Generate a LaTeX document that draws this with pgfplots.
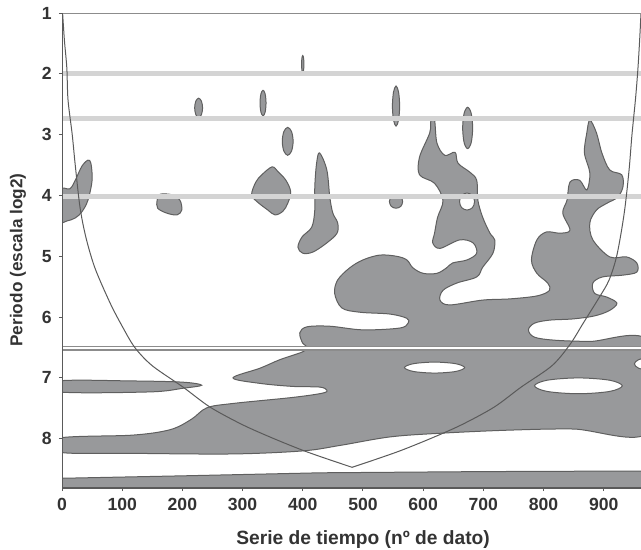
\documentclass[border=0pt]{standalone}
\usepackage{fontspec}
\setmainfont{Liberation Sans}
\usepackage{pgfplots}
\pgfplotsset{compat=1.18}

\definecolor{blob}{RGB}{152,153,155}
\definecolor{edge}{RGB}{95,95,95}
\definecolor{band}{RGB}{212,212,212}
\definecolor{frame}{RGB}{90,90,90}

\pgfplotsset{
  blob/.style={smooth cycle, tension=0.55, fill=blob, draw=edge, line width=0.5pt},
  hole/.style={smooth cycle, tension=0.55, fill=white, draw=edge, line width=0.5pt},
}

\begin{document}
\begin{tikzpicture}
\begin{axis}[
  scale only axis, width=289.5pt, height=237.5pt,
  xmin=0, xmax=962, ymin=1, ymax=8.81, y dir=reverse,
  xtick={0,100,...,900}, ytick={1,...,8},
  tick align=outside, major tick length=1.6pt,
  xtick pos=left, ytick pos=left,
  axis line style={draw=none},
  tick style={draw=frame, line width=0.5pt},
  tick label style={font=\fontsize{8.8}{10}\selectfont\bfseries, text=black!80},
  /pgf/number format/assume math mode=true,
  xlabel={Serie de tiempo (nº de dato)},
  ylabel={Periodo (escala log2)},
  xlabel style={at={(axis description cs:0.52,-0.109)}, anchor=center, font=\fontsize{9.6}{12}\selectfont\bfseries, text=black!80},
  ylabel style={at={(axis description cs:-0.076,0.48)}, anchor=center, font=\fontsize{8.6}{11}\selectfont\bfseries, text=black!80},
]

% bottom band
\addplot[fill=blob, draw=edge, line width=0.5pt] coordinates {
 (0,8.65) (200,8.61) (430,8.56) (700,8.54) (975,8.53) (975,8.9) (0,8.9)} -- cycle;

% thin strip at left (period ~7.1)
\addplot[blob] coordinates {
 (-5,7.05) (118,7.05) (201,7.07) (232,7.12) (201,7.17) (146,7.23) (-5,7.23)};

% main region
\addplot[blob] coordinates {
 (-5,7.99) (118,7.94) (180,7.85) (215,7.68) (241,7.49) (284,7.42) (384,7.32) (433,7.25)
 (440,7.20) (428,7.15) (384,7.14) (329,7.09) (284,7.00) (329,6.84) (362,6.70) (400,6.57)
 (407,6.49) (400,6.43) (395,6.26) (407,6.16) (445,6.15) (500,6.21) (561,6.18) (575,6.10)
 (573,6.02) (545,5.95) (495,5.92) (465,5.85) (453,5.61) (458,5.39) (478,5.19) (500,5.06)
 (528,4.98) (556,5.00) (573,5.06) (583,5.19) (600,5.28) (623,5.28) (639,5.19) (649,5.11)
 (673,5.06) (689,4.95) (683,4.78) (661,4.73) (628,4.87) (616,4.78) (619,4.62) (624,4.36)
 (633,4.08) (619,3.80) (594,3.66) (594,3.37) (611,2.97) (613,2.76) (619,2.76) (623,3.14)
 (636,3.34) (653,3.29) (658,3.47) (678,3.62) (689,3.75) (691,4.08) (699,4.36) (711,4.62)
 (719,4.73) (716,4.95) (699,5.18) (689,5.34) (656,5.44) (633,5.56) (628,5.72) (644,5.80)
 (699,5.72) (745,5.70) (790,5.65) (810,5.56) (807,5.44) (789,5.28) (780,5.06) (789,4.73)
 (805,4.60) (827,4.62) (844,4.57) (832,4.29) (839,4.08) (844,3.78) (860,3.75) (872,3.91)
 (877,3.63) (868,3.30) (872,2.97) (877,2.76) (888,2.97) (897,3.30) (910,3.58) (930,3.66)
 (932,3.86) (923,4.03) (905,4.13) (888,4.24) (877,4.45) (882,4.73) (910,5.01) (938,5.01)
 (955,5.11) (955,5.26) (932,5.31) (898,5.34) (882,5.44) (885,5.61) (905,5.67) (922,5.77)
 (910,5.89) (885,5.98) (849,6.03) (810,6.05) (785,6.10) (775,6.21) (785,6.33) (819,6.38)
 (877,6.40) (975,6.40) (975,7.89) (849,7.84) (739,7.86) (628,7.91) (545,7.97) (462,8.11)
 (400,8.20) (284,8.25) (118,8.24) (-5,8.22)};

% holes
\addplot[hole] coordinates {(669,6.83) (654,6.894) (619,6.92) (584,6.894) (569,6.83) (584,6.766) (619,6.74) (654,6.766)};
\addplot[hole] coordinates {(931,7.13) (910,7.222) (858,7.26) (806,7.222) (785,7.13) (806,7.038) (858,7.00) (910,7.038)};
\addplot[hole] coordinates {(1001,6.77) (994,6.84) (976,6.87) (958,6.84) (951,6.77) (958,6.70) (976,6.67) (994,6.70)};
\addplot[hole] coordinates {(685.5,4.10) (682,4.20) (673,4.24) (664,4.20) (660.5,4.10) (664,4.00) (673,3.96) (682,4.00)};

% left edge blob
\addplot[blob] coordinates {(-5,3.91) (13,3.89) (22,3.75) (33,3.52) (43,3.42) (48,3.47) (50,3.75) (43,4.08) (33,4.27) (22,4.37) (8,4.42) (-5,4.42)};
% blob near 180
\addplot[blob] coordinates {(163,3.98) (183,3.99) (196,4.08) (199,4.24) (191,4.32) (174,4.29) (159,4.21) (158,4.08)};
% blob near 350
\addplot[blob] coordinates {(315,3.99) (322,3.78) (332,3.66) (349,3.53) (359,3.61) (372,3.75) (380,3.94) (375,4.13) (367,4.26) (354,4.32) (342,4.24) (325,4.11)};
% tall blob near 430
\addplot[blob] coordinates {(428,3.30) (440,3.58) (445,4.03) (450,4.29) (458,4.45) (457,4.62) (440,4.78) (417,4.93) (400,4.95) (392,4.85) (399,4.68) (415,4.52) (420,4.24) (420,3.86) (423,3.47)};
% small blobs
\addplot[blob] coordinates {(402,1.84) (401.4,1.94) (400,1.98) (398.6,1.94) (398,1.84) (398.6,1.74) (400,1.70) (401.4,1.74)};
\addplot[blob] coordinates {(233.6,2.56) (231.7,2.67) (227,2.72) (222.3,2.67) (220.4,2.56) (222.3,2.45) (227,2.40) (231.7,2.45)};
\addplot[blob] coordinates {(339,2.48) (337.5,2.63) (334,2.69) (330.5,2.63) (329,2.48) (330.5,2.33) (334,2.27) (337.5,2.33)};
\addplot[blob] coordinates {(561,2.53) (559.2,2.76) (555,2.86) (550.8,2.76) (549,2.53) (550.8,2.30) (555,2.20) (559.2,2.30)};
\addplot[blob] coordinates {(384,3.11) (381.4,3.27) (375,3.34) (368.6,3.27) (366,3.11) (368.6,2.95) (375,2.88) (381.4,2.95)};
\addplot[blob] coordinates {(682.3,2.89) (679.9,3.13) (674,3.23) (668.1,3.13) (665.7,2.89) (668.1,2.65) (674,2.55) (679.9,2.65)};
\addplot[blob] coordinates {(566,4.10) (562.8,4.18) (555,4.21) (547.2,4.18) (544,4.10) (547.2,4.02) (555,3.99) (562.8,4.02)};

% horizontal bands
\addplot[draw=band, line width=2.5pt] coordinates {(0,2.00) (962,2.00)};
\addplot[draw=band, line width=2.5pt] coordinates {(0,2.735) (962,2.735)};
\addplot[draw=band, line width=2.5pt] coordinates {(0,4.02) (962,4.02)};
\addplot[draw=black!45, line width=2.4pt] coordinates {(0,6.51) (962,6.51)};
\addplot[draw=white, line width=1.2pt] coordinates {(0,6.51) (962,6.51)};

% cone of influence
\addplot[smooth, tension=0.5, draw=frame, line width=0.5pt] coordinates {
 (1,1) (4,1.45) (8,1.9) (10,2.43) (17,3.0) (22,3.5) (30,4.2) (40,4.7) (55,5.2) (80,5.77)
 (100,6.15) (121,6.5) (150,6.8) (201,7.15) (246,7.48) (300,7.77) (350,7.99) (400,8.19)
 (440,8.33) (482,8.47)};
\addplot[smooth, tension=0.5, draw=frame, line width=0.5pt] coordinates {
 (482,8.47) (524,8.33) (564,8.19) (614,7.99) (664,7.77) (718,7.48) (763,7.15) (814,6.8)
 (844,6.45) (866,6.1) (893,5.67) (909,5.39) (922,4.98) (934,4.3) (942,3.6) (947,3.0)
 (953,2.4) (957,1.9) (960,1.4) (962,1)};

% frame
\draw[black!45, line width=0.8pt] (axis description cs:0,1) -- (axis description cs:1,1);
\draw[frame, line width=0.6pt] (axis description cs:0,1) -- (axis description cs:0,0) -- (axis description cs:1,0);
\end{axis}
\pgfresetboundingbox
\path[use as bounding box] ([shift={(-31pt,-31pt)}]current axis.south west) rectangle ([shift={(0pt,6.5pt)}]current axis.north east);
\end{tikzpicture}
\end{document}
